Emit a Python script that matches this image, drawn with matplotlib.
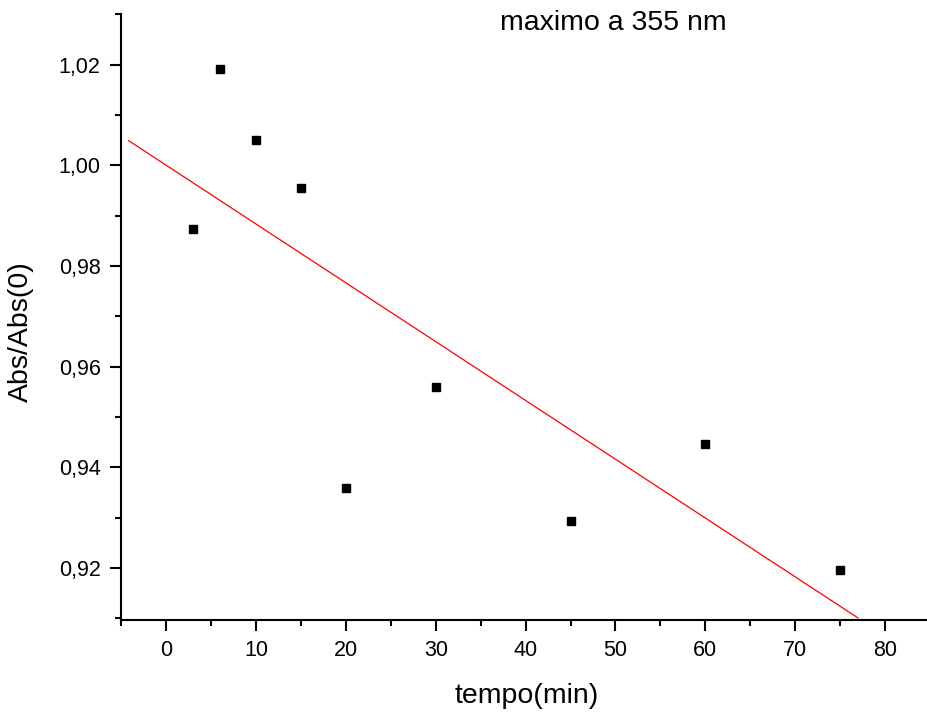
import matplotlib
matplotlib.use("Agg")
import matplotlib.pyplot as plt
from matplotlib.ticker import MultipleLocator, FuncFormatter

plt.rcParams['font.family'] = ['Liberation Sans', 'DejaVu Sans']

tempo = [3, 6, 10, 15, 20, 30, 45, 60, 75]
abs_rel = [0.9873, 1.0192, 1.0051, 0.9954, 0.9360, 0.9559, 0.9294, 0.9446, 0.9197]

# extremos da reta de ajuste (linear)
fit_x = [-4.2, 77.0]
fit_y = [1.0049, 0.9101]

fig = plt.figure(figsize=(9.27, 7.15), dpi=100)
ax = fig.add_axes([0.131, 0.133, 0.872, 0.847])

ax.plot(fit_x, fit_y, color='red', lw=0.9, clip_on=False)
ax.plot(tempo, abs_rel, 's', color='black', ms=6.3, clip_on=False)

ax.set_xlim(-5, 85)
ax.set_ylim(0.9097, 1.03)

ax.xaxis.set_major_locator(MultipleLocator(10))
ax.xaxis.set_minor_locator(MultipleLocator(5))
ax.yaxis.set_major_locator(MultipleLocator(0.02))
ax.yaxis.set_minor_locator(MultipleLocator(0.01))
ax.yaxis.set_major_formatter(FuncFormatter(lambda v, p: f"{v:.2f}".replace('.', ',')))

for s in ['top', 'right']:
    ax.spines[s].set_visible(False)
for s in ['left', 'bottom']:
    ax.spines[s].set_linewidth(1.5)

ax.tick_params(which='major', direction='out', length=8, width=1.5, labelsize=15.5)
ax.tick_params(which='minor', direction='out', length=4.5, width=1.5)
ax.tick_params(axis='y', pad=7)
ax.tick_params(axis='x', pad=6.5)

ax.set_xlabel('tempo(min)', fontsize=20.5)
ax.set_ylabel('Abs/Abs(0)', fontsize=20.5)
ax.xaxis.set_label_coords(0.502, -0.104)
ax.yaxis.set_label_coords(-0.108, 0.476)

fig.text(0.662, 0.958, 'maximo a 355 nm', fontsize=20.5, ha='center', va='baseline')

fig.savefig('out.png', dpi=100)
